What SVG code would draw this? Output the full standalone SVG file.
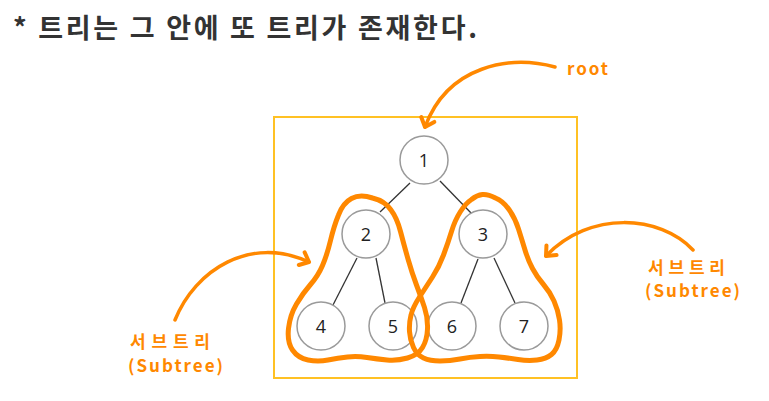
<svg xmlns="http://www.w3.org/2000/svg" width="769" height="401" viewBox="0 0 769 401">
<style>
.node circle{fill:#fff;stroke:#9a9a9a;stroke-width:1.5}
.node text{font-family:"Open Sans","Noto Sans",sans-serif;font-size:18px;fill:#222;text-anchor:middle}
.edge{stroke:#333;stroke-width:1.3}
.loop{fill:none;stroke:#FF8800;stroke-width:5;stroke-linejoin:round}
.arr{fill:none;stroke:#FF8800;stroke-width:3.5;stroke-linecap:round}
.lbl{font-family:"Noto Sans CJK KR","Noto Sans",sans-serif;fill:#FF8800;font-weight:700}
.ko{font-size:17px}
.en{font-size:17px}
</style>
<defs>
<marker id="ah" markerUnits="userSpaceOnUse" markerWidth="20" markerHeight="20" refX="0" refY="0" viewBox="-10 -10 20 20" orient="auto" overflow="visible">
<path d="M-8,-7 L0,0 L-8,7" fill="none" stroke="#FF8800" stroke-width="4" stroke-linecap="round" stroke-linejoin="round"/>
</marker>
</defs>
<rect width="769" height="401" fill="#fff"/>
<text x="13" y="38" textLength="464" lengthAdjust="spacing" font-family="Noto Sans CJK KR, Noto Sans, sans-serif" font-size="27" font-weight="700" fill="#333">* 트리는 그 안에 또 트리가 존재한다.</text>
<rect id="frame" x="274" y="117" width="303" height="261" fill="none" stroke="#FFC124" stroke-width="2"/>
<g id="connectors">
<line class="edge" x1="410" y1="183" x2="380" y2="212"/>
<line class="edge" x1="440" y1="181" x2="472" y2="214"/>
<line class="edge" x1="357" y1="258" x2="333" y2="305"/>
<line class="edge" x1="376" y1="258" x2="385" y2="303"/>
<line class="edge" x1="478" y1="259" x2="461" y2="303"/>
<line class="edge" x1="494" y1="258" x2="515" y2="303"/>
</g>
<g id="n1" class="node"><circle cx="424" cy="160" r="24"/><text x="424" y="166.5">1</text></g>
<g id="n2" class="node"><circle cx="366" cy="234" r="24"/><text x="366" y="240.5">2</text></g>
<g id="n3" class="node"><circle cx="483" cy="234" r="24"/><text x="483" y="240.5">3</text></g>
<g id="n4" class="node"><circle cx="321" cy="326" r="24"/><text x="321" y="332.5">4</text></g>
<g id="n5" class="node"><circle cx="393" cy="326" r="24"/><text x="393" y="332.5">5</text></g>
<g id="n6" class="node"><circle cx="452" cy="326" r="24"/><text x="452" y="332.5">6</text></g>
<g id="n7" class="node"><circle cx="524" cy="326" r="24"/><text x="524" y="332.5">7</text></g>
<g id="subtrees">
<path class="loop" d="M 372.5,198 Q 385,201 391,210 Q 397,218 400.5,231.5 Q 404,245 408,259 Q 412,273 416.5,285 Q 421,297 424.5,307.5 Q 428,318 427.5,329 Q 427,340 422.5,347.5 Q 418,355 407.5,358 Q 397,361 387,360 Q 377,359 367,357.5 Q 357,356 347.5,357 Q 338,358 328,360 Q 318,362 308,360 Q 298,358 292.5,350 Q 287,342 288.5,328.5 Q 290,315 296.5,304 Q 303,293 310.5,284.5 Q 318,276 322.5,265.5 Q 327,255 330.5,240.5 Q 334,226 338.5,215 Q 343,203 351.5,198.5 Q 360,194 372.5,198 Z"/>
<path class="loop" d="M 495.5,198 Q 503,201 509,209.5 Q 515,218 518.5,229 Q 522,240 525,250 Q 528,260 532.5,268.5 Q 537,277 543.5,284.5 Q 550,292 554,301 Q 558,310 559.5,320 Q 561,330 559,340 Q 557,350 551.5,354.5 Q 546,359 537,360 Q 528,361 518,359.5 Q 508,358 499,357 Q 490,356 480,356.5 Q 470,357 460,359 Q 450,361 440,361 Q 430,361 423.5,358 Q 417,355 413.5,347.5 Q 410,340 409.5,331.5 Q 409,323 411,315 Q 413,307 419.5,297 Q 426,287 432.5,277 Q 439,267 443.5,255 Q 448,243 451.5,231.5 Q 455,220 460.5,211.5 Q 466,203 471.5,199.5 Q 477,195 482.5,194.5 Q 488,194 495.5,198 Z"/>
</g>
<g id="annotations">
<path class="arr" d="M 555,67 C 510,55 448,65 425,127" marker-end="url(#ah)"/>
<path class="arr" d="M 175,320 C 195,270 250,235 309,262" marker-end="url(#ah)"/>
<path class="arr" d="M 693,250 C 660,215 590,210 546,256" marker-end="url(#ah)"/>
<text class="lbl en" x="567" y="75" textLength="41" lengthAdjust="spacing">root</text>
<text class="lbl ko" x="130" y="348" textLength="80" lengthAdjust="spacing">서브트리</text>
<text class="lbl en" x="128" y="372" textLength="95" lengthAdjust="spacing">(Subtree)</text>
<text class="lbl ko" x="648" y="274" textLength="77" lengthAdjust="spacing">서브트리</text>
<text class="lbl en" x="645" y="297" textLength="95" lengthAdjust="spacing">(Subtree)</text>
</g>
</svg>
